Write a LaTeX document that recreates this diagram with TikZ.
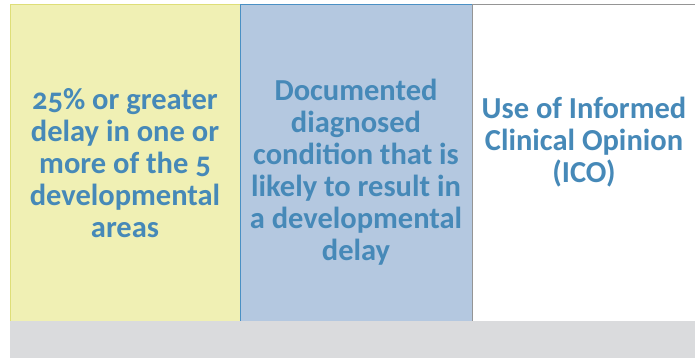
\documentclass[tikz,border=0pt]{standalone}
\usepackage{fontspec}
\setmainfont{Carlito}[Numbers=OldStyle]
\definecolor{yfill}{HTML}{F0F0B4}
\definecolor{yline}{HTML}{DEDE78}
\definecolor{bfill}{HTML}{B4C8E0}
\definecolor{bline}{HTML}{4A90C4}
\definecolor{gline}{HTML}{959595}
\definecolor{gband}{HTML}{DADBDD}
\definecolor{txt}{HTML}{4689B8}
\begin{document}
\begin{tikzpicture}[x=1pt,y=1pt,
  lbl/.style={align=center,text=txt,font=\fontsize{30.5}{32}\selectfont\bfseries,inner sep=0pt}]
\useasboundingbox (0,0) rectangle (695,358);
\fill[white] (0,0) rectangle (695,358);
% gray band
\fill[gband] (9.5,0) rectangle (695,37);
% columns
\fill[yfill] (9.5,37) rectangle (240,353.5);
\fill[bfill] (240,37) rectangle (472,353.5);
\draw[yline,line width=1.6pt] (10.3,37) -- (10.3,353.3) -- (240,353.3);
\draw[bline,line width=1.4pt] (240.7,37) -- (240.7,353.3) -- (472,353.3);
\draw[gline,line width=1.6pt] (472.5,37) -- (472.5,353.3) -- (695,353.3);
\node[lbl] (a) at (125,195) {25\% or greater\\delay in one or\\more of the 5\\developmental\\areas};
\node[lbl] (b) at (356,186) {Documented\\diagnosed\\condition that is\\likely to result in\\a developmental\\delay};
\node[lbl] (c) at (584,216) {Use of Informed\\Clinical Opinion\\(ICO)};
\end{tikzpicture}
\end{document}
